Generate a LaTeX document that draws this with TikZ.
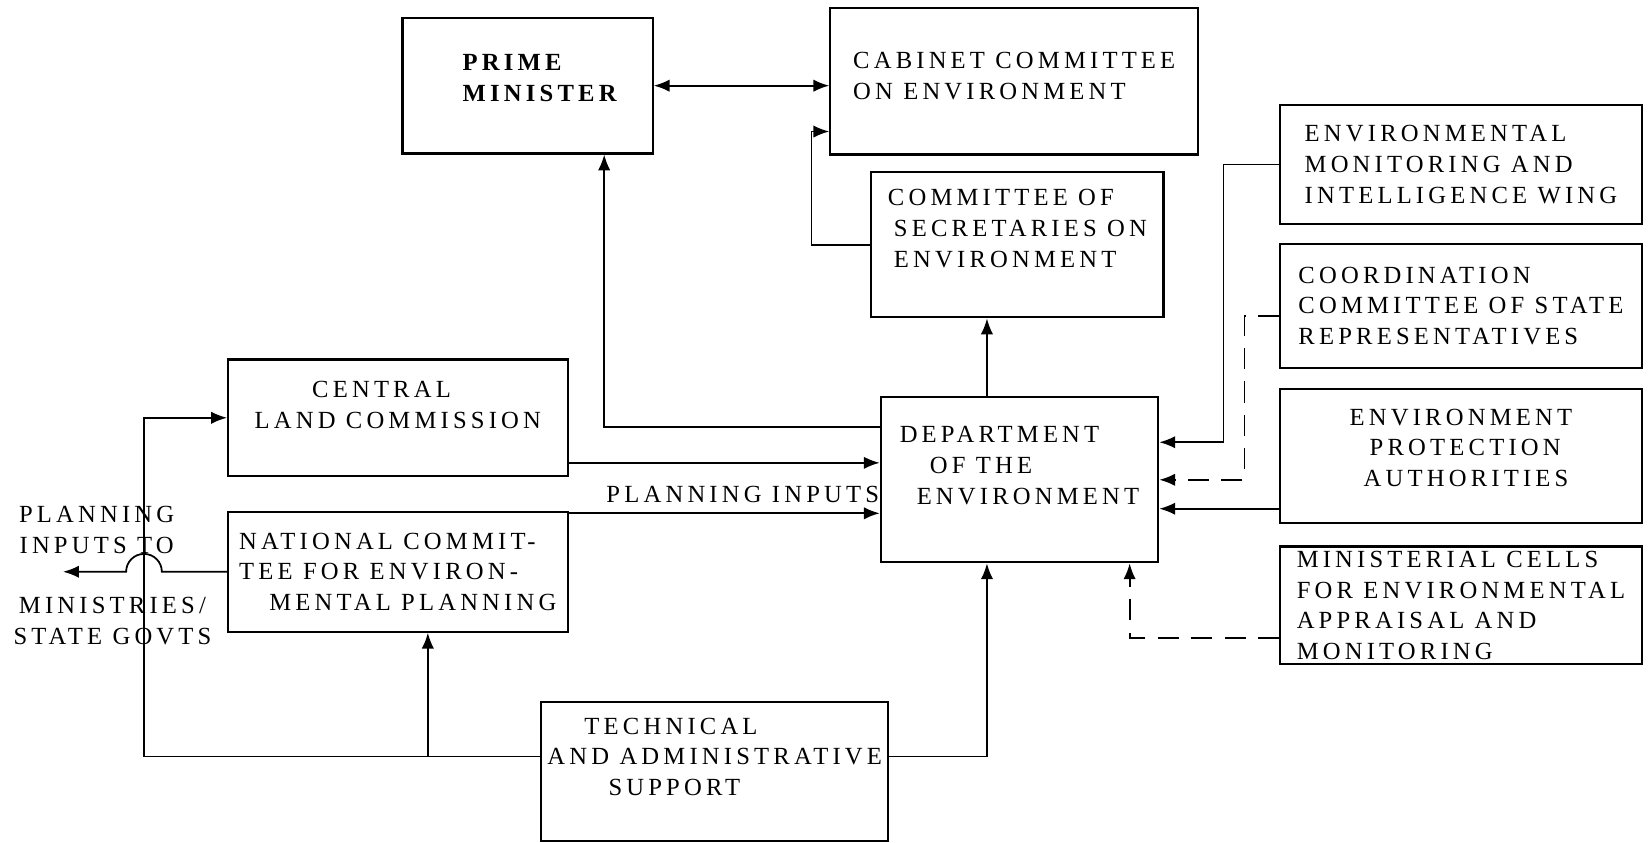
\documentclass[tikz,border=0pt]{standalone}
\usepackage{fontspec}
\setmainfont[LetterSpace=17]{Liberation Serif}
\usetikzlibrary{arrows.meta}

\tikzset{
  box/.style={draw, line width=1.2pt, inner sep=0pt},
  sz/.style 2 args={minimum width=#1*0.021cm, minimum height=#2*0.021cm},
  txt/.style={font=\fontsize{14}{17.5}\selectfont, align=left},
  txtb/.style={font=\fontsize{14}{17.5}\selectfont\bfseries, align=left},
  link/.style={line width=1pt},
  dlink/.style={line width=1pt, dash pattern=on 12pt off 7pt},
}

\begin{document}
\begin{tikzpicture}[x=0.021cm, y=-0.021cm, >={Latex[length=9pt,width=7pt]}]
    \useasboundingbox (0,0) rectangle (1568,802);

    % top level
    \node[box, txtb, sz={238}{129}, text depth=0.3cm] (pm) at (502,81.5) {\hspace{0.48cm}PRIME\\\hspace{0.48cm}MINISTER};
    \node[box, txt, sz={350}{139}, text depth=0.21cm] (cab) at (965,77.5) {CABINET COMMITTEE\\ON ENVIRONMENT};
    \node[box, txt, sz={278}{138}, text depth=0.67cm] (sec) at (968,233) {COMMITTEE OF\\\hspace{0.12cm}SECRETARIES ON\\\hspace{0.12cm}ENVIRONMENT};

    % department and the units feeding it
    \node[box, txt, sz={264}{157}, text depth=0.57cm] (dep) at (970,456.5) {DEPARTMENT\\\hspace{0.6cm}OF THE\\\hspace{0.34cm}ENVIRONMENT};
    \node[box, txt, sz={344}{113}] (emiw) at (1390,156.5) {ENVIRONMENTAL\\MONITORING AND\\INTELLIGENCE WING};
    \node[box, txt, sz={344}{118}] (ccsr) at (1390,291) {COORDINATION\\COMMITTEE OF STATE\\REPRESENTATIVES};
    \node[box, txt, sz={344}{128}, text depth=0.34cm] (epa) at (1390,434) {ENVIRONMENT\\\hspace{0.4cm}PROTECTION\\\hspace{0.28cm}AUTHORITIES};
    \node[box, txt, sz={344}{112}] (mcell) at (1390,576) {MINISTERIAL CELLS\\FOR ENVIRONMENTAL\\APPRAISAL AND\\MONITORING};

    % planning side
    \node[box, txt, sz={323}{111}, text depth=0.53cm] (cl) at (378.5,397.5) {\hspace{1.15cm}CENTRAL\\LAND COMMISSION};
    \node[box, txt, sz={323}{114}] (ncep) at (378.5,544) {NATIONAL COMMIT-\\TEE FOR ENVIRON-\\\hspace{0.6cm}MENTAL PLANNING};
    \node[box, txt, sz={330}{132}, text depth=0.59cm] (tas) at (680,734) {\hspace{0.74cm}TECHNICAL\\AND ADMINISTRATIVE\\\hspace{1.22cm}SUPPORT};

    \node[txt, align=center] (pto) at (92,504) {PLANNING\\INPUTS TO};
    \node[txt, align=center] (msg) at (107,591) {MINISTRIES/\\STATE GOVTS};

    % attachment points
    \coordinate (dep-top) at ([xshift=-0.65cm]dep.north);
    \coordinate (dep-bot) at ([xshift=-0.65cm]dep.south);
    \coordinate (dep-pm) at ([yshift=1.05cm]dep.west);
    \coordinate (cl-out) at ([yshift=-0.9cm]cl.east);
    \coordinate (ncep-out) at ([yshift=-0.05cm]ncep.north east);
    \coordinate (ncep-in) at ([xshift=0.6cm]ncep.south);
    \coordinate (tas-in) at ([yshift=0.3cm]tas.west);
    \coordinate (tas-out) at ([yshift=0.3cm]tas.east);
    \coordinate (epa-out) at ([yshift=-1.05cm]epa.west);
    \coordinate (ptarget) at (60,544);

    \draw[link, <->] (pm.east) -- (pm.east -| cab.west);
    \draw[link, ->] (sec.west) -- ++(-56,0) |- ([yshift=-1cm]cab.west);
    \draw[link, ->] (dep-top) -- (dep-top |- sec.south);
    \draw[link, ->] (dep-pm) -| ([xshift=1.53cm]pm.south);

    \draw[link, ->] (cl-out) -- (cl-out -| dep.west);
    \draw[link, ->] (ncep-out) -- node[txt, above, pos=0.56, yshift=2pt] (pin) {PLANNING INPUTS} (ncep-out -| dep.west);
    \draw[link, ->] (ncep.west) -- ++(-62,0) arc[start angle=0, end angle=-180, radius=17] -- (ptarget);

    \draw[link, ->] (tas-in) -- ++(-377,0) |- (cl.west);
    \draw[link, ->] (ncep-in |- tas-in) -- (ncep-in);
    \draw[link, ->] (tas-out) -| (dep-bot);

    \draw[link, ->] (emiw.west) -- ++(-53,0) |- ([yshift=0.75cm]dep.east);
    \draw[dlink, ->] ([yshift=-0.2cm]ccsr.west) -- ++(-33,0) |- (dep.east);
    \draw[link, ->] (epa-out) -- (epa-out -| dep.east);
    \draw[dlink, ->] ([yshift=-0.65cm]mcell.west) -| ([xshift=2.2cm]dep.south);
\end{tikzpicture}
\end{document}
